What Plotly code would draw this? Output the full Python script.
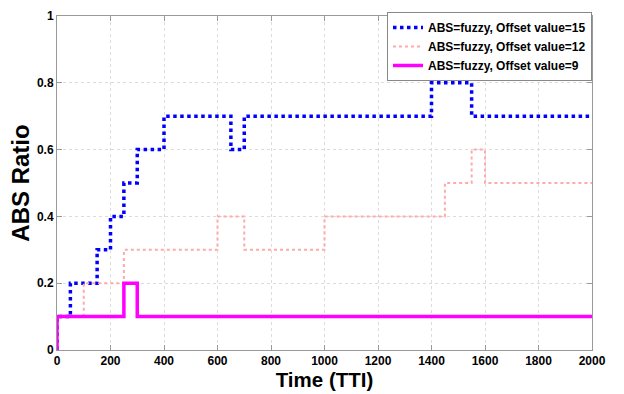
import plotly.graph_objects as go

# Data (step change points)
x15 = [0, 0, 50, 150, 200, 250, 300, 400, 650, 700, 1400, 1550, 2000]
y15 = [0, 0.1, 0.2, 0.3, 0.4, 0.5, 0.6, 0.7, 0.6, 0.7, 0.8, 0.7, 0.7]

x12 = [0, 0, 100, 250, 600, 700, 1000, 1450, 1550, 1600, 2000]
y12 = [0, 0.1, 0.2, 0.3, 0.4, 0.3, 0.4, 0.5, 0.6, 0.5, 0.5]

x9 = [0, 0, 250, 300, 2000]
y9 = [0, 0.1, 0.2, 0.1, 0.1]

names = ["ABS=fuzzy, Offset value=15", "ABS=fuzzy, Offset value=12", "ABS=fuzzy, Offset value=9"]
xticks = [0, 200, 400, 600, 800, 1000, 1200, 1400, 1600, 1800, 2000]
yticks = [0, 0.2, 0.4, 0.6, 0.8, 1]
yticklabels = ["0", "0.2", "0.4", "0.6", "0.8", "1"]

FONT = "Arial, Liberation Sans, sans-serif"

fig = go.Figure()
fig.add_trace(go.Scatter(x=x15, y=y15, mode="lines", line_shape="hv", name=names[0],
                         line=dict(color="#0000ff", width=3.5, dash="dot")))
fig.add_trace(go.Scatter(x=x12, y=y12, mode="lines", line_shape="hv", name=names[1],
                         line=dict(color="#ffaaaa", width=2, dash="dot")))
fig.add_trace(go.Scatter(x=x9, y=y9, mode="lines", line_shape="hv", name=names[2],
                         line=dict(color="#ff00ff", width=3.5)))

axis_common = dict(
    showline=True, linecolor="#999999", linewidth=1, mirror="ticks",
    ticks="inside", ticklen=5, tickcolor="#999999",
    showgrid=True, gridcolor="#dcdcdc", griddash="dot", gridwidth=1,
    zeroline=False, automargin=False,
    tickfont=dict(family=FONT, size=12, color="black", weight="bold"),
)

fig.update_layout(
    width=624, height=394,
    margin=dict(l=57, r=32, t=12, b=44),
    paper_bgcolor="white", plot_bgcolor="white",
    showlegend=True,
    legend=dict(x=1, xanchor="right", y=1.012, yanchor="top",
                bgcolor="white", bordercolor="#888888", borderwidth=1,
                font=dict(family=FONT, size=12, color="black", weight="bold"),
                tracegroupgap=0, itemwidth=30),
    xaxis=dict(range=[0, 2000], tickvals=xticks, ticktext=[str(v) for v in xticks],
               title=dict(text="Time (TTI)", font=dict(family=FONT, size=20.5, color="black", weight="bold"),
                          standoff=4),
               **axis_common),
    yaxis=dict(range=[0, 1], tickvals=yticks, ticktext=yticklabels,
               title=dict(text="ABS Ratio", font=dict(family=FONT, size=24, color="black", weight="bold"),
                          standoff=0),
               **axis_common),
)

fig.write_html("out.html", config={"displayModeBar": False},
               post_script="document.body.style.margin='0';")
